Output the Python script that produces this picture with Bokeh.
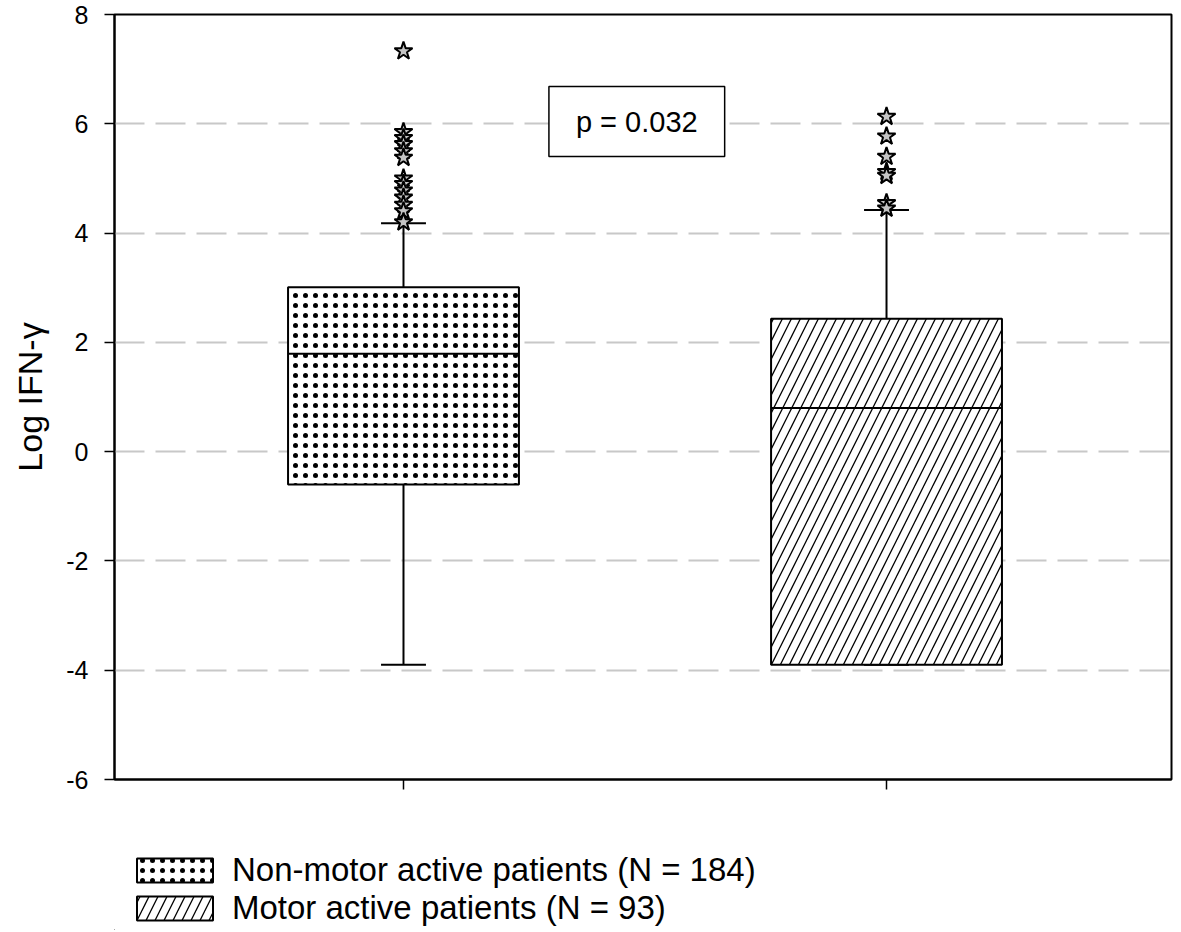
from bokeh.plotting import figure
from bokeh.layouts import column
from bokeh.models import (ColumnDataSource, Legend, LegendItem, Range1d, FixedTicker, Label,
                          PrintfTickFormatter)
from bokeh.embed import file_html
from bokeh.resources import INLINE

# ---- data ----
groups = ["Non-motor active patients (N = 184)", "Motor active patients (N = 93)"]
positions = [1, 2]
q1 = [-0.60, -3.90]
median = [1.79, 0.80]
q3 = [3.01, 2.43]
whisk_low = [-3.90, -3.90]
whisk_high = [4.18, 4.42]
outliers_nonmotor = [7.33, 5.85, 5.74, 5.63, 5.50, 5.38, 5.00, 4.90, 4.78, 4.65, 4.52, 4.40, 4.20]
outliers_motor = [6.13, 5.77, 5.40, 5.12, 5.05, 4.55, 4.45]
y_ticks = [-6, -4, -2, 0, 2, 4, 6, 8]
p_text = "p = 0.032"

FONT = "Liberation Sans"
BOX_W = 0.478
CAP_W = 0.093

p = figure(width=1173, height=795, output_backend="svg", toolbar_location=None,
           x_range=Range1d(0.4017, 2.59), y_range=Range1d(-6, 8),
           min_border_left=114, min_border_top=14, min_border_right=2, min_border_bottom=16)

p.outline_line_color = "black"
p.outline_line_width = 2

# grid
p.xgrid.visible = False
p.ygrid.grid_line_color = "#c8c8c8"
p.ygrid.grid_line_width = 2
p.ygrid.grid_line_dash = "30 11"

# axes
p.yaxis.ticker = FixedTicker(ticks=y_ticks)
p.yaxis.formatter = PrintfTickFormatter(format="%d")
p.yaxis.axis_line_width = 2
p.yaxis.axis_line_color = "black"
p.yaxis.major_tick_line_width = 1.5
p.yaxis.major_tick_out = 10
p.yaxis.major_tick_in = 0
p.yaxis.minor_tick_line_color = None
p.yaxis.major_label_text_font = FONT
p.yaxis.major_label_text_font_size = "25px"
p.yaxis.major_label_text_color = "black"
p.yaxis.major_label_standoff = 16
p.yaxis.axis_label = "Log IFN-γ"
p.yaxis.axis_label_text_font = FONT
p.yaxis.axis_label_text_font_size = "34px"
p.yaxis.axis_label_text_font_style = "normal"
p.yaxis.axis_label_text_color = "black"
p.yaxis.axis_label_standoff = 14

p.xaxis.ticker = FixedTicker(ticks=positions)
p.xaxis.axis_line_width = 2
p.xaxis.axis_line_color = "black"
p.xaxis.major_tick_line_width = 1.5
p.xaxis.major_tick_out = 10
p.xaxis.major_tick_in = 0
p.xaxis.minor_tick_line_color = None
p.xaxis.major_label_text_font_size = "0px"
p.xaxis.major_label_text_color = None

# whiskers
p.segment(x0=positions, y0=q3, x1=positions, y1=whisk_high, line_color="black", line_width=2)
p.segment(x0=positions, y0=q1, x1=positions, y1=whisk_low, line_color="black", line_width=2)
caps_l = [x - CAP_W / 2 for x in positions]
caps_r = [x + CAP_W / 2 for x in positions]
p.segment(x0=caps_l, y0=whisk_high, x1=caps_r, y1=whisk_high, line_color="black", line_width=2)
p.segment(x0=caps_l, y0=whisk_low, x1=caps_r, y1=whisk_low, line_color="black", line_width=2)

# boxes
box_styles = [
    dict(hatch_pattern="dot", hatch_color="black", hatch_scale=10, hatch_weight=0.5),
    dict(hatch_pattern="right_diagonal_line", hatch_color="black", hatch_scale=18, hatch_weight=1.3),
]
for i in range(2):
    src = ColumnDataSource(dict(x=[positions[i]], top=[q3[i]], bottom=[q1[i]]))
    p.vbar(x="x", top="top", bottom="bottom", width=BOX_W, source=src,
           fill_color="white", line_color="black", line_width=2, **box_styles[i])

# medians
p.segment(x0=[x - BOX_W / 2 for x in positions], y0=median,
          x1=[x + BOX_W / 2 for x in positions], y1=median, line_color="black", line_width=2)

# outliers
p.scatter(x=[positions[0]] * len(outliers_nonmotor), y=outliers_nonmotor, marker="star",
          size=19, fill_color="#c4c4c4", line_color="black", line_width=2)
p.scatter(x=[positions[1]] * len(outliers_motor), y=outliers_motor, marker="star",
          size=19, fill_color="#c4c4c4", line_color="black", line_width=2)

# p-value box
p.add_layout(Label(x=1.483, y=6.04, text=p_text, text_font=FONT, text_font_size="29px",
                   text_align="center", text_baseline="middle", text_color="black",
                   border_line_color="black", border_line_width=1.5,
                   background_fill_color="white",
                   padding=(27, 27, 19, 19)))

# ---- legend panel below the plot (legend proxies lie outside its visible range) ----
lg = figure(width=1173, height=135, output_backend="svg", toolbar_location=None,
            x_range=Range1d(10, 11), y_range=Range1d(10, 11),
            min_border_left=0, min_border_right=0, min_border_top=0, min_border_bottom=0)
lg.axis.visible = False
lg.grid.visible = False
lg.outline_line_color = None
items = []
for i in range(2):
    src = ColumnDataSource(dict(x=[positions[i]], top=[q3[i]], bottom=[q1[i]]))
    r = lg.vbar(x="x", top="top", bottom="bottom", width=BOX_W, source=src,
                fill_color="white", line_color="black", line_width=2, **box_styles[i])
    items.append(LegendItem(label=groups[i], renderers=[r]))

legend = Legend(items=items, location=(13, 3), orientation="vertical",
                label_text_font=FONT, label_text_font_size="33px", label_text_color="black",
                glyph_width=95, glyph_height=30, label_height=30, spacing=0,
                label_standoff=10, padding=0, margin=0,
                border_line_color=None, background_fill_color=None)
lg.add_layout(legend, "center")

layout = column(p, lg, spacing=0)
open("out.html", "w").write(file_html(layout, INLINE))
